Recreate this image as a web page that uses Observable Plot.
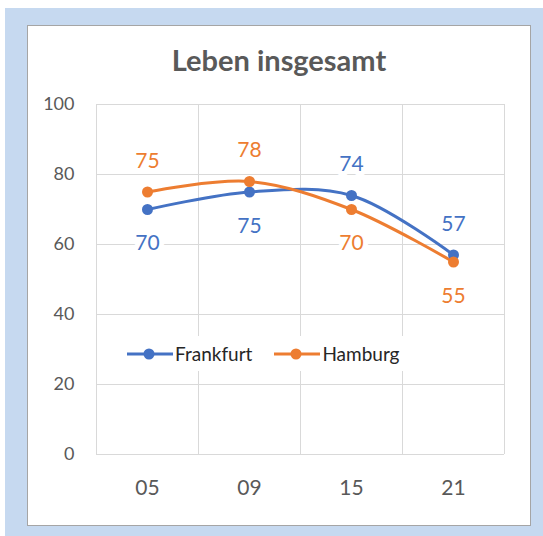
<!DOCTYPE html>
<html>
<head>
<meta charset="utf-8">
<script src="https://cdn.jsdelivr.net/npm/d3@7"></script>
<script src="https://cdn.jsdelivr.net/npm/@observablehq/plot@0.6"></script>
<style>
  html, body { margin: 0; padding: 0; background: #fff; }
  #wrap { position: relative; width: 543px; height: 536px; overflow: hidden; font-family: Lato, "Open Sans", sans-serif; }
  #bg { position: absolute; left: 5px; top: 8px; right: 0; bottom: 0; background: #c6d9f0; }
  #panel { position: absolute; left: 27px; top: 25px; width: 502px; height: 499px; background: #fff; border: 1px solid #a5a5a5; }
  #title { position: absolute; left: 27px; width: 504px; top: 42px; text-align: center; font-weight: 700; font-size: 29px; color: #595959; line-height: 36px; }
  #chart { position: absolute; left: 0; top: 0; }
  #legend { position: absolute; top: 336px; left: 121px; height: 35px; background: #fff; display: flex; align-items: center; font-size: 19px; color: #262626; padding: 0 6px; }
  .item { display: flex; align-items: center; margin-right: 22px; }
  .item:last-child { margin-right: 0; }
  .item svg { margin-right: 2px; }
</style>
</head>
<body>
<div id="wrap">
  <div id="bg"></div>
  <div id="panel"></div>
  <div id="title">Leben insgesamt</div>
  <div id="chart"></div>
  <div id="legend"></div>
</div>
<script>
const categories = ["05", "09", "15", "21"];
const seriesNames = ["Frankfurt", "Hamburg"];
const frankfurt = [70, 75, 74, 57];
const hamburg = [75, 78, 70, 55];
const yTicks = [0, 20, 40, 60, 80, 100];
const colors = ["#4472C4", "#ED7D31"];

const values = [frankfurt, hamburg];
const data = [];
seriesNames.forEach((s, si) => {
  categories.forEach((c, i) => {
    const other = values[1 - si][i];
    const v = values[si][i];
    data.push({series: s, i, cat: c, value: v, above: si === 0 ? v >= other : v > other});
  });
});

const boundaries = d3.range(categories.length + 1).map(i => i - 0.5);

const plot = Plot.plot({
  width: 543,
  height: 536,
  marginLeft: 96,
  marginRight: 39,
  marginTop: 104,
  marginBottom: 82,
  style: {fontFamily: "Lato, 'Open Sans', sans-serif", background: "transparent", color: "#595959"},
  x: {type: "linear", domain: [-0.5, categories.length - 0.5], label: null},
  y: {domain: [0, 100], label: null},
  color: {domain: seriesNames, range: colors},
  marks: [
    Plot.ruleY(yTicks, {stroke: "#d9d9d9", strokeWidth: 1}),
    Plot.ruleX(boundaries, {stroke: "#d9d9d9", strokeWidth: 1}),
    Plot.axisY({ticks: yTicks, tickSize: 0, tickPadding: 22, fontSize: 18, fill: "#595959", label: null}),
    Plot.axisX({ticks: d3.range(categories.length), tickFormat: i => categories[i], tickSize: 0, tickPadding: 26, fontSize: 21, fill: "#595959", label: null}),
    Plot.lineY(data, {x: "i", y: "value", z: "series", stroke: "series", strokeWidth: 3, curve: "catmull-rom"}),
    Plot.dot(data, {x: "i", y: "value", fill: "series", r: 5.5, stroke: "none"}),
    Plot.text(data.filter(d => d.above), {x: "i", y: "value", text: d => String(d.value), fill: "series", fontSize: 21, dy: -31, stroke: "white", strokeWidth: 10, paintOrder: "stroke"}),
    Plot.text(data.filter(d => !d.above), {x: "i", y: "value", text: d => String(d.value), fill: "series", fontSize: 21, dy: 34, stroke: "white", strokeWidth: 10, paintOrder: "stroke"})
  ]
});
document.getElementById("chart").appendChild(plot);

const legend = document.getElementById("legend");
seriesNames.forEach((s, si) => {
  const item = document.createElement("div");
  item.className = "item";
  item.innerHTML = `<svg width="46" height="14"><line x1="0" x2="46" y1="7" y2="7" stroke="${colors[si]}" stroke-width="3"/><circle cx="22" cy="7" r="5.5" fill="${colors[si]}"/></svg><span>${s}</span>`;
  legend.appendChild(item);
});
</script>
</body>
</html>
